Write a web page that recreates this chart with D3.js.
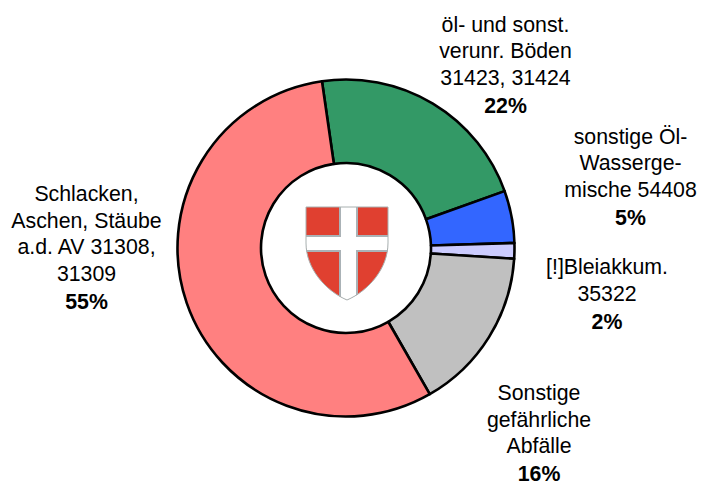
<!DOCTYPE html>
<html lang="de">
<head>
  <meta charset="UTF-8">
  <title>Abfallarten</title>
  <script src="https://d3js.org/d3.v7.min.js"></script>
  <style>
    body { margin: 0; background: #fff; }
    svg { display: block; }
    text { font-family: "Liberation Sans", Arial, sans-serif; font-size: 21.3px; fill: #000; }
    .pct { font-weight: bold; }
  </style>
</head>
<body>
  <div id="chart"></div>
  <script>
    // angular shares, printed percentages are kept apart
    const shares = [21.8, 5, 1.5, 15.7, 56];
    const percents = ["22%", "5%", "2%", "16%", "55%"];
    const colors = ["#339966", "#3366ff", "#ccccff", "#c0c0c0", "#ff8080"];
    const labels = [
      ["öl- und sonst.", "verunr. Böden", "31423, 31424"],
      ["sonstige Öl-", "Wasserge-", "mische 54408"],
      ["[!]Bleiakkum.", "35322"],
      ["Sonstige", "gefährliche", "Abfälle"],
      ["Schlacken,", "Aschen, Stäube", "a.d. AV 31308,", "31309"]
    ];
    // label centre x and first baseline
    const labelX = [505.5, 630.5, 607, 539, 86.5];
    const labelY = [31.5, 143.5, 274, 400, 201];

    const width = 715, height = 495;
    const cx = 346, cy = 248, outer = 168.5, inner = 85;
    const lineH = 26.5;
    const pctGap = 1.5;

    const svg = d3.select("#chart").append("svg")
      .attr("width", width)
      .attr("height", height);

    const pie = d3.pie()
      .sort(null)
      .startAngle(-8.2 * Math.PI / 180)
      .endAngle((360 - 8.2) * Math.PI / 180);

    const arc = d3.arc().innerRadius(inner).outerRadius(outer);

    svg.append("g")
      .attr("transform", `translate(${cx},${cy})`)
      .selectAll("path")
      .data(pie(shares))
      .join("path")
      .attr("d", arc)
      .attr("fill", (d, i) => colors[i])
      .attr("stroke", "#000")
      .attr("stroke-width", 2.6)
      .attr("stroke-linejoin", "round");

    // labels, last line is the bold percentage
    labels.forEach((lines, i) => {
      const t = svg.append("text")
        .attr("text-anchor", "middle")
        .attr("x", labelX[i])
        .attr("y", labelY[i]);
      lines.forEach((line, j) => {
        t.append("tspan")
          .attr("x", labelX[i])
          .attr("y", labelY[i] + j * lineH)
          .text(line);
      });
      t.append("tspan")
        .attr("class", "pct")
        .attr("x", labelX[i])
        .attr("y", labelY[i] + lines.length * lineH + pctGap)
        .text(percents[i]);
    });

    // Vienna coat of arms in the hole
    const shield = svg.append("g").attr("transform", "translate(306,207)");
    const outline = "M0,0 H82 V36 C82,62 62,84 41,93 C20,84 0,62 0,36 Z";
    shield.append("path").attr("d", outline).attr("fill", "#e04030");
    const clip = svg.append("clipPath").attr("id", "shield-clip");
    clip.append("path").attr("d", outline);
    const cross = shield.append("g").attr("clip-path", "url(#shield-clip)");
    // grey edge lines first, white cross on top
    cross.append("rect").attr("x", 33).attr("y", 0).attr("width", 19).attr("height", 93).attr("fill", "#aab2b6");
    cross.append("rect").attr("x", 0).attr("y", 28).attr("width", 82).attr("height", 17).attr("fill", "#aab2b6");
    cross.append("rect").attr("x", 35).attr("y", 0).attr("width", 15).attr("height", 93).attr("fill", "#fff");
    cross.append("rect").attr("x", 0).attr("y", 30).attr("width", 82).attr("height", 13).attr("fill", "#fff");
    cross.append("rect").attr("x", 35).attr("y", 0).attr("width", 15).attr("height", 93).attr("fill", "#fff");
    shield.append("path").attr("d", outline).attr("fill", "none").attr("stroke", "#a8b0b0").attr("stroke-width", 1);
  </script>
</body>
</html>
